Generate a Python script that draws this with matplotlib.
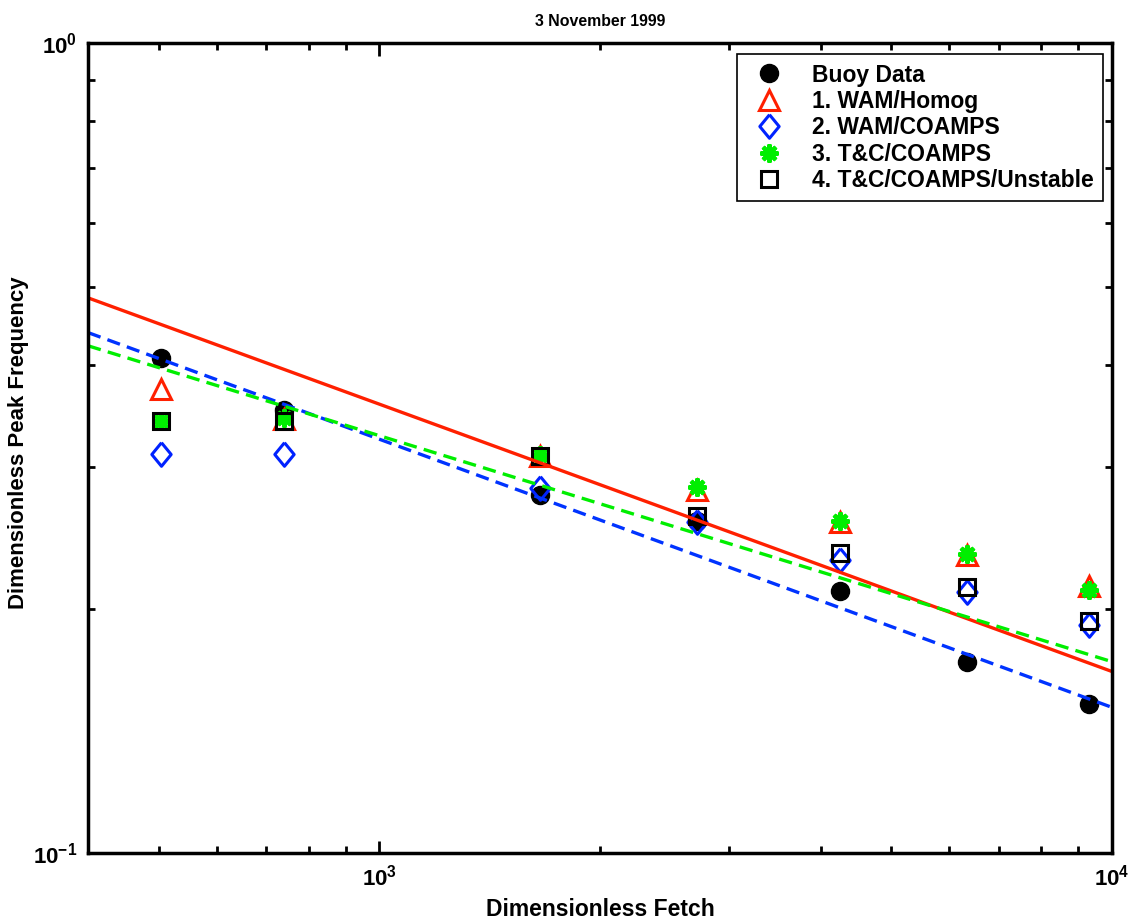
import numpy as np
import matplotlib
matplotlib.use("Agg")
import matplotlib.pyplot as plt
from matplotlib.ticker import LogLocator, NullFormatter, FixedLocator

plt.rcParams['font.family'] = ['Liberation Sans', 'DejaVu Sans']
plt.rcParams['font.weight'] = 'bold'
plt.rcParams['mathtext.fontset'] = 'custom'
plt.rcParams['mathtext.rm'] = 'Liberation Sans:bold'
plt.rcParams['mathtext.it'] = 'Liberation Sans:bold'
plt.rcParams['mathtext.bf'] = 'Liberation Sans:bold'

# Data
fetch = [503, 740, 1656, 2711, 4247, 6341, 9313]
buoy = [0.408, 0.352, 0.277, 0.257, 0.2106, 0.172, 0.1527]
wam_homog = [0.374, 0.343, 0.309, 0.281, 0.2564, 0.2333, 0.2136]
wam_coamps = [0.311, 0.311, 0.282, 0.256, 0.230, 0.210, 0.191]
tc_coamps = [0.341, 0.344, 0.310, 0.283, 0.257, 0.234, 0.211]
tc_unstable = [0.341, 0.341, 0.309, 0.261, 0.2347, 0.2130, 0.1934]

# Power-law curves: y = coef * x ** expo
line_x_range = [400, 10000]
red_coef, red_exp = 3.5, -0.33
blue_coef, blue_exp = 3.19, -0.331
green_coef, green_exp = 2.25, -0.279

diamond = [(0, 1), (0.82, 0), (0, -1), (-0.82, 0), (0, 1)]

fig = plt.figure(figsize=(11.35, 9.23), dpi=100)
ax = fig.add_axes([88/1135, 70/923, 1024/1135, 810/923])

ax.plot(fetch, buoy, 'o', color='black', markersize=13, linestyle='none', label='Buoy Data')
ax.plot(fetch, wam_homog, '^', mfc='none', mec='#ff2000', mew=2.2, markersize=14, linestyle='none', label='1. WAM/Homog')
ax.plot(fetch, wam_coamps, marker=diamond, mfc='none', mec='#0022ff', mew=2.2, markersize=17, linestyle='none', label='2. WAM/COAMPS')
ax.plot(fetch, tc_coamps, marker=(8, 2, 0), color='#00ee00', mec='#00ee00', mew=3, markersize=13, linestyle='none', label='3. T&C/COAMPS')
ax.plot(fetch, tc_unstable, 's', mfc='none', mec='black', mew=2.2, markersize=12, linestyle='none', label='4. T&C/COAMPS/Unstable')

xs = np.logspace(np.log10(line_x_range[0]), np.log10(line_x_range[1]), 50)
ax.plot(xs, red_coef * xs ** red_exp, '-', color='#ff2000', lw=2.4)
ax.plot(xs, blue_coef * xs ** blue_exp, '--', color='#0033ff', lw=2.4, dashes=(4, 2.2))
ax.plot(xs, green_coef * xs ** green_exp, '--', color='#00ee00', lw=2.4, dashes=(4, 2.2))

ax.set_xscale('log')
ax.set_yscale('log')
ax.set_xlim(400, 10000)
ax.set_ylim(0.1, 1.0)

ax.xaxis.set_major_locator(FixedLocator([1e3, 1e4]))
ax.yaxis.set_major_locator(FixedLocator([0.1, 1.0]))
ax.xaxis.set_minor_locator(LogLocator(base=10, subs=np.arange(2, 10)))
ax.yaxis.set_minor_locator(LogLocator(base=10, subs=np.arange(2, 10)))
ax.xaxis.set_minor_formatter(NullFormatter())
ax.yaxis.set_minor_formatter(NullFormatter())
ax.set_xticklabels([r'$10^{3}$', r'$10^{4}$'])
ax.set_yticklabels([r'$10^{-1}$', r'$10^{0}$'])

ax.tick_params(which='both', direction='in', top=True, right=True, width=2, labelsize=16)
ax.tick_params(which='major', length=9, pad=8)
ax.tick_params(which='minor', length=5)
for s in ax.spines.values():
    s.set_linewidth(2.5)

ax.set_xlabel('Dimensionless Fetch', fontsize=16.5, fontweight='bold', labelpad=6)
ax.set_ylabel('Dimensionless Peak Frequency', fontsize=16, fontweight='bold')
ax.yaxis.set_label_coords(-0.058, 0.506)
ax.set_title('3 November 1999', fontsize=11.4, fontweight='bold', pad=12)

leg = ax.legend(loc='upper right', bbox_to_anchor=(0.991, 0.986), fontsize=16.5, frameon=True,
                fancybox=False, edgecolor='black', borderpad=0.4, labelspacing=0.15,
                handlelength=2.0, handletextpad=0.88, borderaxespad=0, framealpha=1)
leg.get_frame().set_linewidth(1.2)
for t in leg.get_texts():
    t.set_fontweight('bold')

fig.savefig('out.png', dpi=100)
